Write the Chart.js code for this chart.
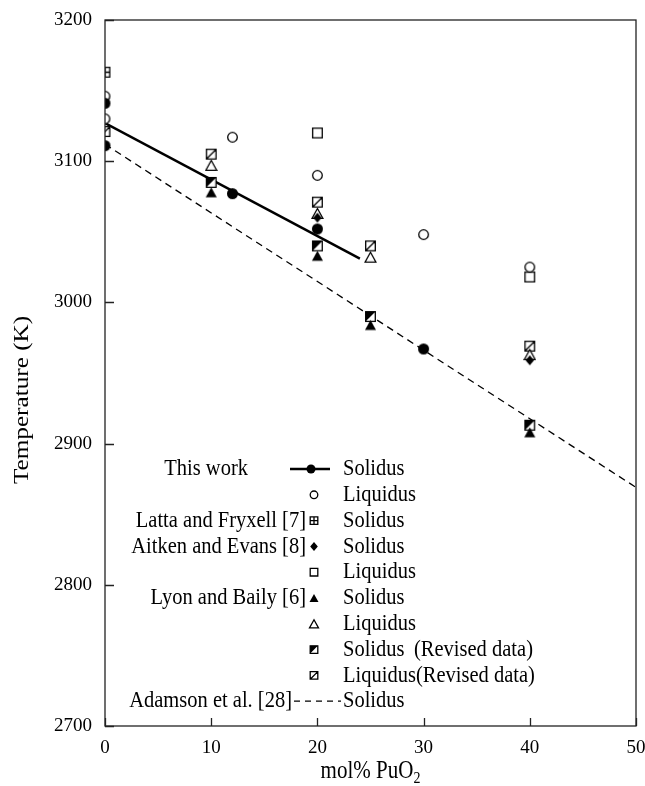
<!DOCTYPE html>
<html>
<head>
<meta charset="utf-8">
<script src="https://cdn.jsdelivr.net/npm/chart.js@4.4.1/dist/chart.umd.min.js"></script>
<style>html,body{margin:0;padding:0;background:#fff}</style>
</head>
<body>
<canvas id="phase" width="645" height="786"></canvas>
<script>
const serif = '"Liberation Serif", "DejaVu Serif", serif';

// tick labels
const xTicks = [0, 10, 20, 30, 40, 50];
const yTicks = [2700, 2800, 2900, 3000, 3100, 3200];

// This work
const thisSolX = [0, 0, 12, 20, 30];
const thisSolY = [3141, 3111, 3077, 3052, 2967];
const thisLiqX = [0, 0, 12, 20, 30, 40];
const thisLiqY = [3146, 3130, 3117, 3090, 3048, 3025];
const thisFitX = [0, 24];
const thisFitY = [3127, 3031];
// Latta and Fryxell [7]
const lattaSolX = [0];
const lattaSolY = [3163];
// Aitken and Evans [8]
const aitkenSolX = [20, 40];
const aitkenSolY = [3060, 2959];
const aitkenLiqX = [20, 40];
const aitkenLiqY = [3120, 3018];
// Lyon and Baily [6]
const lyonSolX = [10, 20, 25, 40];
const lyonSolY = [3078, 3033, 2984, 2908];
const lyonLiqX = [10, 20, 25, 40];
const lyonLiqY = [3097, 3063, 3032, 2963];
const revSolX = [10, 20, 25, 40];
const revSolY = [3085, 3040, 2990, 2913];
const revLiqX = [0, 10, 20, 25, 40];
const revLiqY = [3121, 3105, 3071, 3040, 2969];
// Adamson et al. [28]
const adamsonX = [0, 50];
const adamsonY = [3112, 2869];

const pts = (xs, ys) => xs.map((x, i) => ({ x: x, y: ys[i] }));

// marker shapes, used for the points and for the legend
function drawMarker(ctx, kind, x, y, s) {
  const h = s / 2;
  ctx.save();
  ctx.lineWidth = 1.3;
  ctx.strokeStyle = '#000';
  ctx.fillStyle = '#000';
  ctx.beginPath();
  if (kind === 'dot') {
    ctx.arc(x, y, h, 0, Math.PI * 2);
    ctx.fill();
  } else if (kind === 'ring') {
    ctx.arc(x, y, h - 0.7, 0, Math.PI * 2);
    ctx.fillStyle = '#fff';
    ctx.fill();
    ctx.stroke();
  } else if (kind === 'diamond') {
    ctx.moveTo(x, y - h); ctx.lineTo(x + h * 0.85, y); ctx.lineTo(x, y + h); ctx.lineTo(x - h * 0.85, y);
    ctx.closePath();
    ctx.fill();
  } else if (kind === 'tri' || kind === 'openTri') {
    const t = s * 0.45;
    ctx.moveTo(x, y - t); ctx.lineTo(x + h, y + t); ctx.lineTo(x - h, y + t);
    ctx.closePath();
    if (kind === 'tri') { ctx.fill(); } else { ctx.fillStyle = '#fff'; ctx.fill(); ctx.stroke(); }
  } else {
    const l = x - h + 0.7, t = y - h + 0.7, w = s - 1.4;
    ctx.fillStyle = '#fff';
    ctx.fillRect(l, t, w, w);
    if (kind === 'halfBox') {
      ctx.fillStyle = '#000';
      ctx.moveTo(l, t); ctx.lineTo(l + w, t); ctx.lineTo(l, t + w);
      ctx.closePath();
      ctx.fill();
      ctx.beginPath();
    }
    ctx.rect(l, t, w, w);
    if (kind === 'plusBox') {
      ctx.moveTo(x, t); ctx.lineTo(x, t + w);
      ctx.moveTo(l, y); ctx.lineTo(l + w, y);
    }
    if (kind === 'slashBox') {
      ctx.moveTo(l, t + w); ctx.lineTo(l + w, t);
    }
    ctx.stroke();
  }
  ctx.restore();
}

function markerCanvas(kind, s) {
  const c = document.createElement('canvas');
  c.width = s + 2;
  c.height = s + 2;
  drawMarker(c.getContext('2d'), kind, (s + 2) / 2, (s + 2) / 2, s);
  return c;
}

function markers(label, xs, ys, kind, s) {
  return {
    label: label,
    data: pts(xs, ys),
    showLine: false,
    pointStyle: markerCanvas(kind, s),
    pointRadius: s / 2,
    pointHoverRadius: s / 2
  };
}

function stretchText(ctx, txt, x, y, align, sy) {
  ctx.save();
  ctx.translate(x, y);
  ctx.scale(1, sy);
  ctx.textAlign = align;
  ctx.textBaseline = 'middle';
  ctx.fillText(txt, 0, 0);
  ctx.restore();
}

// legend rows: group name, marker, series name
const legendRows = [
  ['This work', 'fit', 'Solidus'],
  ['', 'ring', 'Liquidus'],
  ['Latta and Fryxell [7]', 'plusBox', 'Solidus'],
  ['Aitken and Evans [8]', 'diamond', 'Solidus'],
  ['', 'box', 'Liquidus'],
  ['Lyon and Baily [6]', 'tri', 'Solidus'],
  ['', 'openTri', 'Liquidus'],
  ['', 'halfBox', 'Solidus'],
  ['', 'slashBox', 'Liquidus(Revised data)'],
  ['Adamson et al. [28]', 'dash', 'Solidus']
];

const extras = {
  id: 'extras',
  afterDraw(chart) {
    const { ctx, chartArea: a, scales: { x, y } } = chart;
    ctx.save();
    // frame and inward ticks
    ctx.strokeStyle = '#222';
    ctx.lineWidth = 1.3;
    ctx.strokeRect(a.left, a.top, a.right - a.left, a.bottom - a.top);
    ctx.beginPath();
    xTicks.forEach(v => {
      const px = Math.round(x.getPixelForValue(v)) + 0.5;
      ctx.moveTo(px, a.bottom); ctx.lineTo(px, a.bottom - 8);
    });
    yTicks.forEach(v => {
      const py = Math.round(y.getPixelForValue(v)) + 0.5;
      ctx.moveTo(a.left, py); ctx.lineTo(a.left + 9, py);
    });
    ctx.stroke();

    // axis titles
    ctx.fillStyle = '#000';
    ctx.font = '21px ' + serif;
    ctx.save();
    ctx.translate(22, 400);
    ctx.rotate(-Math.PI / 2);
    ctx.scale(1.2, 1);
    ctx.textAlign = 'center';
    ctx.textBaseline = 'middle';
    ctx.fillText('Temperature (K)', 0, 0);
    ctx.restore();

    const main = 'mol% PuO';
    const mw = ctx.measureText(main).width;
    ctx.font = '14px ' + serif;
    const sw = ctx.measureText('2').width;
    const x0 = (a.left + a.right) / 2 - (mw + sw) / 2;
    stretchText(ctx, '2', x0 + mw, 779, 'left', 1.15);
    ctx.font = '21px ' + serif;
    stretchText(ctx, main, x0, 772, 'left', 1.15);

    // legend
    const mx = 314, tx = 343, y0 = 469, dy = 25.8;
    legendRows.forEach((r, i) => {
      const ry = y0 + i * dy;
      ctx.font = '20.5px ' + serif;
      ctx.fillStyle = '#000';
      if (r[0]) {
        const endX = i === 0 ? 248 : (i === 9 ? 292 : 306);
        stretchText(ctx, r[0], endX, ry, 'right', 1.15);
      }
      stretchText(ctx, r[2], tx, ry, 'left', 1.15);
      if (i === 7) stretchText(ctx, '(Revised data)', 414, ry, 'left', 1.15);
      if (r[1] === 'fit') {
        ctx.beginPath();
        ctx.lineWidth = 2.5;
        ctx.strokeStyle = '#000';
        ctx.moveTo(290, ry); ctx.lineTo(330, ry);
        ctx.stroke();
        drawMarker(ctx, 'dot', 311, ry, 9);
      } else if (r[1] === 'dash') {
        ctx.beginPath();
        ctx.lineWidth = 1.3;
        ctx.strokeStyle = '#000';
        ctx.setLineDash([6, 5]);
        ctx.moveTo(294, ry); ctx.lineTo(341, ry);
        ctx.stroke();
        ctx.setLineDash([]);
      } else {
        drawMarker(ctx, r[1], mx, ry, 9);
      }
    });
    ctx.restore();
  }
};

new Chart(document.getElementById('phase'), {
  type: 'scatter',
  data: {
    datasets: [
      markers('This work Solidus', thisSolX, thisSolY, 'dot', 11),
      markers('This work Liquidus', thisLiqX, thisLiqY, 'ring', 11),
      markers('Latta and Fryxell Solidus', lattaSolX, lattaSolY, 'plusBox', 11),
      markers('Aitken and Evans Solidus', aitkenSolX, aitkenSolY, 'diamond', 10),
      markers('Aitken and Evans Liquidus', aitkenLiqX, aitkenLiqY, 'box', 11),
      markers('Lyon and Baily Solidus', lyonSolX, lyonSolY, 'tri', 11),
      markers('Lyon and Baily Liquidus', lyonLiqX, lyonLiqY, 'openTri', 11),
      markers('Solidus (Revised data)', revSolX, revSolY, 'halfBox', 11),
      markers('Liquidus (Revised data)', revLiqX, revLiqY, 'slashBox', 11),
      {
        label: 'This work Solidus fit',
        data: pts(thisFitX, thisFitY),
        showLine: true,
        borderColor: '#000',
        borderWidth: 2.5,
        pointRadius: 0
      },
      {
        label: 'Adamson et al. Solidus',
        data: pts(adamsonX, adamsonY),
        showLine: true,
        borderColor: '#000',
        borderWidth: 1.3,
        borderDash: [7, 5],
        pointRadius: 0
      }
    ]
  },
  options: {
    responsive: false,
    animation: false,
    layout: { padding: { top: 20, right: 9, left: 0, bottom: 0 } },
    plugins: {
      legend: { display: false },
      tooltip: { enabled: false }
    },
    scales: {
      x: {
        type: 'linear',
        min: 0,
        max: 50,
        afterBuildTicks: s => { s.ticks = xTicks.map(v => ({ value: v })); },
        afterFit: s => { s.height = 60; s.paddingRight = 0; s.paddingLeft = 0; },
        grid: { display: false, drawTicks: false },
        border: { display: false },
        ticks: {
          color: '#000',
          padding: 11,
          font: { family: serif, size: 19 },
          callback: v => String(v)
        }
      },
      y: {
        type: 'linear',
        min: 2700,
        max: 3200,
        afterBuildTicks: s => { s.ticks = yTicks.map(v => ({ value: v })); },
        afterFit: s => { s.width = 105; s.paddingTop = 0; s.paddingBottom = 0; },
        grid: { display: false, drawTicks: false },
        border: { display: false },
        ticks: {
          color: '#000',
          padding: 13,
          font: { family: serif, size: 19 },
          callback: v => String(v)
        }
      }
    }
  },
  plugins: [extras]
});
</script>
</body>
</html>
